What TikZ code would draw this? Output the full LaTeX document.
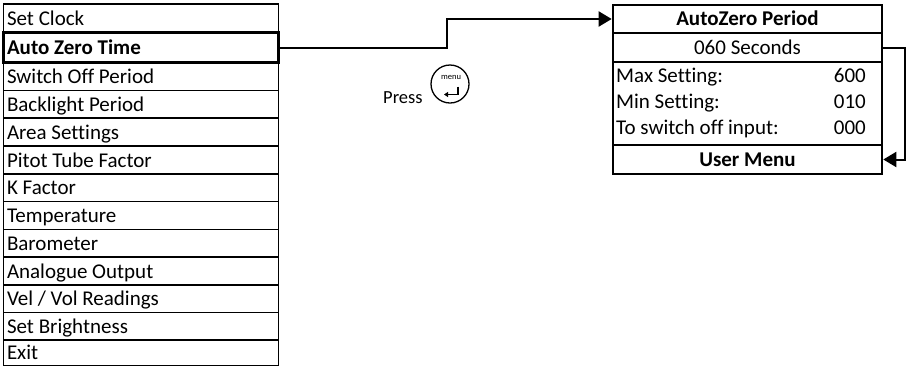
\documentclass[tikz,border=0pt]{standalone}
\usepackage{fontspec}
\setmainfont{Carlito}[Ligatures=NoCommon]
\usetikzlibrary{arrows.meta,calc}
\begin{document}
\begin{tikzpicture}[x=1pt,y=-1pt,
  txt/.style={font=\fontsize{21}{25}\selectfont},
  row/.style={txt,draw,line width=1.6pt,inner xsep=3.5pt,inner ysep=0pt,text width=268pt,align=flush left,
     text height=15.5pt,text depth=1.5pt},
  selrow/.style={row,line width=2.8pt,font=\fontsize{21}{25}\selectfont\bfseries},
  rbox/.style={txt,draw,line width=2.6pt,minimum width=269pt,inner sep=0pt,text height=15pt,text depth=2pt},
  conn/.style={line width=2pt},
  tip/.style={-{Triangle[length=13pt,width=15pt]}},
  lbl/.style={txt,inner sep=0pt,text height=13pt,text depth=4pt}]
\path[use as bounding box,fill=white] (0,0) rectangle (909,368);
% left menu list
\foreach \i/\t/\b/\s in {1/4/32.5/Set Clock,3/62.5/90.5/Switch Off Period,4/90.5/118/Backlight Period,
   5/118/146/Area Settings,6/146/174/Pitot Tube Factor,7/174/201.5/K Factor,8/201.5/229.5/Temperature,
   9/229.5/257/Barometer,10/257/285/Analogue Output,11/285/312.5/{Vel / Vol Readings},
   12/312.5/340/Set Brightness,13/340/365.5/Exit}{
  \pgfmathsetmacro{\c}{(\t+\b)/2}
  \pgfmathsetmacro{\h}{\b-\t}
  \node[row,minimum height=\h pt] (r\i) at (141,\c) {\s};
}
\node[selrow,minimum height=30pt] (r2) at (141,47.5) {Auto Zero Time};
% press button
\node[txt,font=\fontsize{18.5}{22}\selectfont,anchor=base west,inner sep=0pt] (press) at (383,103) {Press};
\node[draw,circle,line width=1.3pt,minimum size=38pt,inner sep=0pt] (btn) at (450,84) {};
\node[font=\fontsize{8.5}{9}\selectfont,inner sep=0pt] (menu) at (451,77) {menu};
\draw[line width=1.3pt,-{Triangle[length=4pt,width=5pt]}] (458,86.5) -- (458,94.5) -- (444,94.5);
% right screen
\node[rbox,minimum height=28pt,font=\fontsize{21}{25}\selectfont\bfseries] (title) at (747.5,19) {AutoZero Period};
\node[rbox,line width=1.8pt,minimum height=29pt] (sec) at (747.5,47.5) {060 Seconds};
\node[draw,line width=2.4pt,minimum width=269pt,minimum height=83pt,inner sep=0pt] (info) at (747.5,103.5) {};
\node[rbox,minimum height=29pt,font=\fontsize{21}{25}\selectfont\bfseries] (um) at (747.5,159.5) {User Menu};
\node[lbl,anchor=west] (maxl) at (616,78) {Max Setting:};
\node[lbl,anchor=east] (maxv) at (866,78) {600};
\node[lbl,anchor=west] (minl) at (616,104) {Min Setting:};
\node[lbl,anchor=east] (minv) at (866,104) {010};
\node[lbl,anchor=west] (offl) at (616,130) {To switch off input:};
\node[lbl,anchor=east] (offv) at (866,130) {000};
% connectors
\coordinate (k1) at (447,0);
\coordinate (k2) at (905,0);
\draw[conn,tip] (r2.east) -- (r2.east -| k1) |- (title.west);
\draw[conn,tip] (sec.east) -- (sec.east -| k2) |- (um.east);
\end{tikzpicture}
\end{document}
